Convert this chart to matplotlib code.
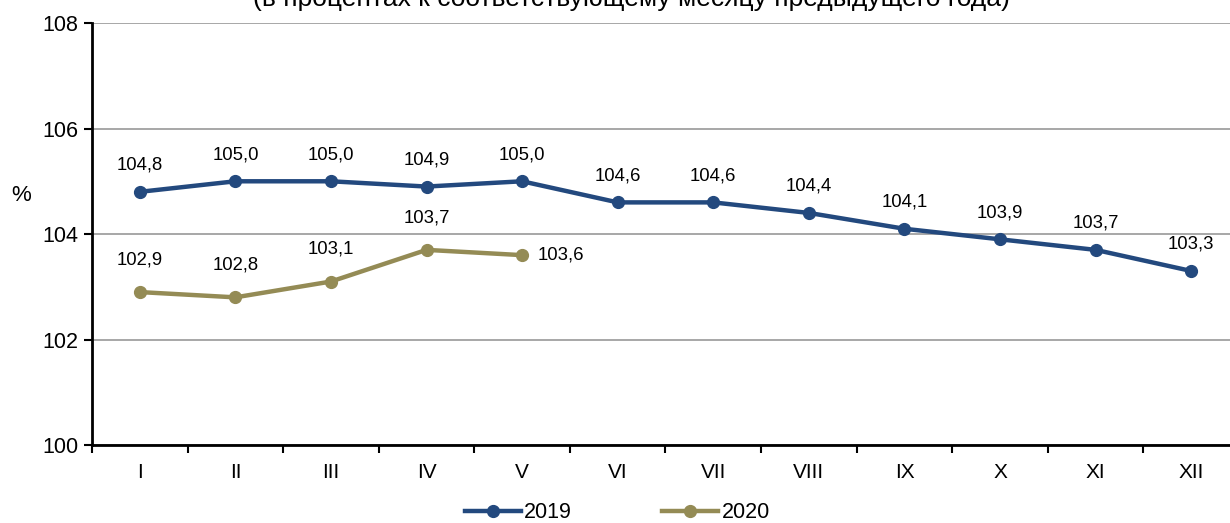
import matplotlib.pyplot as plt
import numpy as np

plt.rcParams['font.family'] = ['Liberation Sans', 'DejaVu Sans']

# data
months = ['I', 'II', 'III', 'IV', 'V', 'VI', 'VII', 'VIII', 'IX', 'X', 'XI', 'XII']
y2019 = [104.8, 105.0, 105.0, 104.9, 105.0, 104.6, 104.6, 104.4, 104.1, 103.9, 103.7, 103.3]
y2020 = [102.9, 102.8, 103.1, 103.7, 103.6]
title = '(в процентах к соответствующему месяцу предыдущего года)'

c2019 = '#23497e'
c2020 = '#948b55'

fig = plt.figure(figsize=(12.3, 5.23), dpi=100)
ax = fig.add_axes([0.0748, 0.149, 0.9325, 0.807])

x = np.arange(len(months))
x20 = np.arange(len(y2020))

ax.plot(x, y2019, color=c2019, lw=3.2, marker='o', ms=8.5, label='2019', zorder=3)
ax.plot(x20, y2020, color=c2020, lw=3.2, marker='o', ms=8.5, label='2020', zorder=3)

def fmt(v):
    return f'{v:.1f}'.replace('.', ',')

for xi, v in zip(x, y2019):
    ax.annotate(fmt(v), (xi, v), xytext=(0, 13), textcoords='offset points',
                ha='center', va='bottom', fontsize=13.3)
for xi, v in zip(x20, y2020):
    if xi == len(y2020) - 1:
        ax.annotate(fmt(v), (xi, v), xytext=(11, 0), textcoords='offset points',
                    ha='left', va='center', fontsize=13.3)
    else:
        ax.annotate(fmt(v), (xi, v), xytext=(0, 17), textcoords='offset points',
                    ha='center', va='bottom', fontsize=13.3)

ax.set_xlim(-0.5, len(months) - 0.5)
ax.set_ylim(100, 108)
ax.set_yticks([100, 102, 104, 106, 108])
ax.yaxis.grid(True, color='#a0a0a0', lw=1.3)
ax.set_axisbelow(True)

ax.set_xticks(x)
ax.set_xticklabels(months)
ax.set_xticks(np.arange(-0.5, len(months)), minor=True)
ax.tick_params(axis='x', which='major', length=0, pad=13, labelsize=15)
ax.tick_params(axis='x', which='minor', length=6, width=1.5, direction='out')
ax.tick_params(axis='y', length=6, width=1.5, labelsize=15.5, pad=4)

for s in ['top', 'right']:
    ax.spines[s].set_visible(False)
for s in ['left', 'bottom']:
    ax.spines[s].set_linewidth(2)
    ax.spines[s].set_color('black')

fig.text(0.009, 0.627, '%', fontsize=16, ha='left', va='center')
fig.text(0.513, 0.988, title, fontsize=19, ha='center', va='baseline')

fig.legend(loc='center', bbox_to_anchor=(0.502, 0.02), ncol=2, frameon=False,
           fontsize=15.5, handlelength=2.6, handletextpad=0.15, columnspacing=4.2,
           borderaxespad=0)

fig.savefig('out.png', dpi=100)
